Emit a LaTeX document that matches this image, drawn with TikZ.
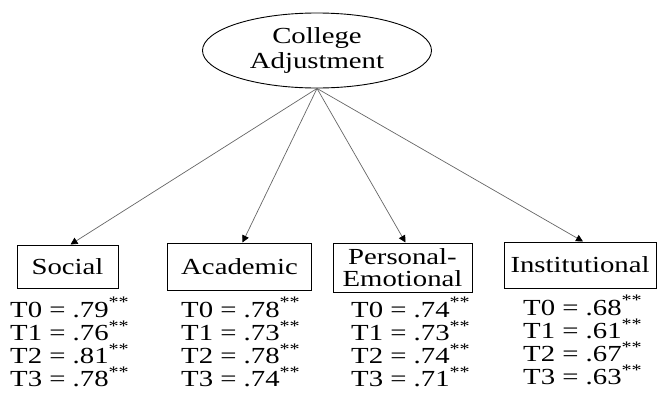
\documentclass[tikz,border=0pt]{standalone}
\usepackage{fontspec}
\setmainfont{Liberation Serif}[FakeStretch=1.25]
\usetikzlibrary{shapes.geometric,arrows.meta}
\begin{document}
\begin{tikzpicture}[x=1pt,y=-1pt,font=\fontsize{23}{22}\selectfont,
 latent/.style={draw,ellipse,line width=.9pt,inner sep=0pt,minimum width=229pt,minimum height=75pt,align=center},
 factor/.style={draw,line width=1pt,inner sep=0pt,align=center},
 load/.style={anchor=base west,inner sep=0pt},
 path/.style={draw=black!60,line width=.7pt,-{Triangle[length=7pt,width=7pt,color=black]}}]
\useasboundingbox (0,0) rectangle (658,394);
\node[latent,font=\fontsize{23}{25}\selectfont] (adj) at (317,50.5) {College\\Adjustment};
\foreach \n/\x/\y/\w/\h/\txt in {social/67.5/266.5/101/43/Social,academic/239.5/266.5/144/47/Academic,
 personal/402.5/267.5/139/49/{Personal-\\Emotional},institutional/580/265/152/46/Institutional}{
 \node[factor,minimum width=\w pt,minimum height=\h pt] (\n) at (\x,\y) {\txt};
 \draw[path] (adj.south) -- ([xshift=3pt]\n.north);
}
\foreach \n/\x/\y/\a/\b/\c/\d in {social/10/317/79/76/81/78,academic/181/317/78/73/78/74,
 personal/351/317/74/73/74/71,institutional/523/315/68/61/67/63}{
 \foreach \v [count=\i from 0] in {\a,\b,\c,\d}{
  \node[load] (\n-t\i) at (\x,\y+23.3*\i) {T\i{} = .\v\textsuperscript{**}};
 }
}
\end{tikzpicture}
\end{document}
